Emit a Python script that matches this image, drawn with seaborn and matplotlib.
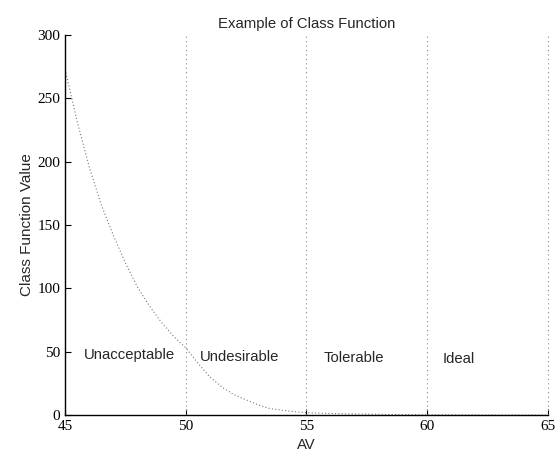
import matplotlib
matplotlib.use("Agg")
import matplotlib.pyplot as plt
import pandas as pd
import seaborn as sns

# values
av = [45, 45.5, 46, 46.5, 47, 47.5, 48, 48.5, 49, 49.5, 50, 50.5, 51, 51.5, 52,
      52.5, 53, 53.5, 54, 54.5, 55, 56, 57, 58, 59, 60, 61, 62, 63, 64, 65]
class_value = [273, 232, 196, 166, 142, 120, 101, 86, 73, 62, 53, 41, 30, 22, 16,
               12, 8, 5, 3.8, 2.6, 1.8, 1.2, 0.8, 0.5, 0.3, 0.2, 0.1, 0.1, 0, 0, 0]

boundaries = [45, 50, 55, 60, 65]
region_names = ["Unacceptable", "Undesirable", "Tolerable", "Ideal"]
region_x = [45.8, 50.6, 55.7, 60.65]
region_y = [47, 46, 45, 44]

x_ticks = [45, 50, 55, 60, 65]
y_ticks = [0, 50, 100, 150, 200, 250, 300]

df = pd.DataFrame({"AV": av, "value": class_value})

sns.set_style("ticks")
plt.rcParams["font.family"] = ["Liberation Sans", "DejaVu Sans"]
plt.rcParams["xtick.direction"] = "in"
plt.rcParams["ytick.direction"] = "in"

fig = plt.figure(figsize=(5.58, 4.53), dpi=100)
ax = fig.add_axes([0.1165, 0.0839, 0.8655, 0.8388])

for b in boundaries:
    ax.axvline(b, color="#888888", linestyle=(0, (1, 3)), linewidth=0.8,
               zorder=1, clip_on=False)

sns.lineplot(data=df, x="AV", y="value", ax=ax, color="#777777",
             linestyle=(0, (1, 2)), linewidth=0.8, zorder=2)

for name, tx, ty in zip(region_names, region_x, region_y):
    ax.text(tx, ty, name, fontsize=10.7, va="center", ha="left")

ax.set_xlim(45, 65)
ax.set_ylim(0, 300)
ax.set_xticks(x_ticks)
ax.set_yticks(y_ticks)
for lab in ax.get_xticklabels() + ax.get_yticklabels():
    lab.set_family("Liberation Serif")
    lab.set_fontsize(11)
ax.tick_params(length=4, width=0.8, colors="black")
ax.set_xlabel("AV", fontsize=10.7, labelpad=4)
ax.set_ylabel("Class Function Value", fontsize=11, labelpad=2)
ax.set_title("Example of Class Function", fontsize=10.7, pad=5)
sns.despine(ax=ax)
for s in ["left", "bottom"]:
    ax.spines[s].set_linewidth(1.0)
    ax.spines[s].set_color("black")

fig.savefig("out.png", dpi=100)
